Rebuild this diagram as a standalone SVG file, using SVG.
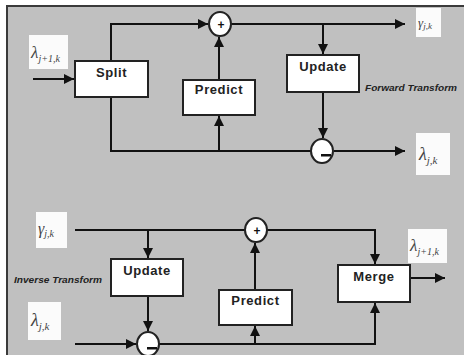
<svg xmlns="http://www.w3.org/2000/svg" width="464" height="355" viewBox="0 0 464 355">
  <style>
    .panel { fill: #c0c0c0; stroke: #3a3a3a; stroke-width: 2; }
    .box { fill: #ffffff; stroke: #222; stroke-width: 2; }
    .op { fill: #ffffff; stroke: #222; stroke-width: 2; }
    .wire { fill: none; stroke: #111; stroke-width: 2; }
    .lbl { font-family: "Liberation Sans", Arial, sans-serif; font-weight: bold; font-size: 13px; fill: #222; text-anchor: middle; letter-spacing: 0.6px; }
    .cap { font-family: "Liberation Sans", Arial, sans-serif; font-weight: bold; font-style: italic; font-size: 9px; fill: #222; }
    .sym { fill: #fbfbfb; stroke: none; }
    .math { font-family: "Liberation Serif", "Times New Roman", serif; font-style: italic; fill: #444; }
    .sign { font-family: "Liberation Sans", Arial, sans-serif; font-weight: bold; font-size: 12px; fill: #111; text-anchor: middle; }
  </style>
  <defs>
    <marker id="arrow" viewBox="0 0 10 10" refX="10" refY="5" markerWidth="5" markerHeight="5" orient="auto" markerUnits="strokeWidth">
      <path d="M0,0 L10,5 L0,10 z" fill="#111"/>
    </marker>
  </defs>

  <!-- background panel -->
  <rect class="panel" x="7" y="6" width="470" height="360"/>

  <!-- connectors -->
  <g id="connectors" class="wire">
    <!-- forward transform -->
    <path d="M33,79 H74" marker-end="url(#arrow)"/>
    <path d="M111,61 V24 H208" marker-end="url(#arrow)"/>
    <path d="M231,24 H405" marker-end="url(#arrow)"/>
    <path d="M323,24 V54" marker-end="url(#arrow)"/>
    <path d="M219,80 V37" marker-end="url(#arrow)"/>
    <path d="M111,97 V151 H311"/>
    <path d="M219,151 V116" marker-end="url(#arrow)"/>
    <path d="M323,92 V138" marker-end="url(#arrow)"/>
    <path d="M334,151 H405" marker-end="url(#arrow)"/>
    <!-- inverse transform -->
    <path d="M75,230 H245"/>
    <path d="M148,230 V258" marker-end="url(#arrow)"/>
    <path d="M267,230 H375 V264" marker-end="url(#arrow)"/>
    <path d="M255,290 V243" marker-end="url(#arrow)"/>
    <path d="M75,344 H136" marker-end="url(#arrow)"/>
    <path d="M148,296 V331" marker-end="url(#arrow)"/>
    <path d="M159,344 H375 V303" marker-end="url(#arrow)"/>
    <path d="M255,344 V326" marker-end="url(#arrow)"/>
    <path d="M410,278 H445" marker-end="url(#arrow)"/>
  </g>

  <!-- forward transform blocks -->
  <g id="split">
    <rect class="box" x="75" y="61" width="73" height="36"/>
    <text class="lbl" x="111.5" y="77">Split</text>
  </g>
  <g id="predict-fwd">
    <rect class="box" x="183" y="80" width="72" height="35"/>
    <text class="lbl" x="219" y="94">Predict</text>
  </g>
  <g id="update-fwd">
    <rect class="box" x="287" y="55" width="72" height="37"/>
    <text class="lbl" x="323" y="71">Update</text>
  </g>
  <g id="add-fwd">
    <ellipse class="op" cx="220" cy="24" rx="11" ry="12"/>
    <text class="sign" x="221" y="29">+</text>
  </g>
  <g id="sub-fwd">
    <ellipse class="op" cx="322" cy="151" rx="11" ry="12"/>
    <rect x="321" y="154" width="10" height="2.5" fill="#111"/>
  </g>
  <text class="cap" x="365" y="91" textLength="92" lengthAdjust="spacingAndGlyphs">Forward Transform</text>

  <!-- inverse transform blocks -->
  <g id="update-inv">
    <rect class="box" x="111" y="259" width="72" height="37"/>
    <text class="lbl" x="147" y="275">Update</text>
  </g>
  <g id="predict-inv">
    <rect class="box" x="219" y="290" width="73" height="35"/>
    <text class="lbl" x="255.5" y="305">Predict</text>
  </g>
  <g id="merge">
    <rect class="box" x="338" y="265" width="72" height="37"/>
    <text class="lbl" x="374" y="281">Merge</text>
  </g>
  <g id="add-inv">
    <ellipse class="op" cx="256" cy="230" rx="11" ry="12"/>
    <text class="sign" x="257" y="235">+</text>
  </g>
  <g id="sub-inv">
    <ellipse class="op" cx="148" cy="344" rx="11" ry="12"/>
    <rect x="147" y="347" width="10" height="2.5" fill="#111"/>
  </g>
  <text class="cap" x="14" y="283" textLength="88" lengthAdjust="spacingAndGlyphs">Inverse Transform</text>

  <!-- signal labels -->
  <g id="lambda-in">
    <rect class="sym" x="29" y="35" width="39" height="34"/>
    <text class="math" x="31" y="58" font-size="17">λ<tspan font-size="10" dy="4">j+1,k</tspan></text>
  </g>
  <g id="gamma-out">
    <rect class="sym" x="416" y="8" width="25" height="29"/>
    <text class="math" x="418" y="27" font-size="13">γ<tspan font-size="9" dy="2">j,k</tspan></text>
  </g>
  <g id="lambda-out">
    <rect class="sym" x="416" y="133" width="34" height="42"/>
    <text class="math" x="419" y="160" font-size="18">λ<tspan font-size="11" dy="4">j,k</tspan></text>
  </g>
  <g id="gamma-in">
    <rect class="sym" x="36" y="212" width="31" height="36"/>
    <text class="math" x="38" y="234" font-size="16">γ<tspan font-size="10" dy="3">j,k</tspan></text>
  </g>
  <g id="lambda-in2">
    <rect class="sym" x="28" y="302" width="33" height="38"/>
    <text class="math" x="31" y="326" font-size="18">λ<tspan font-size="11" dy="4">j,k</tspan></text>
  </g>
  <g id="lambda-merged">
    <rect class="sym" x="408" y="229" width="39" height="34"/>
    <text class="math" x="410" y="251" font-size="17">λ<tspan font-size="10" dy="4">j+1,k</tspan></text>
  </g>
</svg>
